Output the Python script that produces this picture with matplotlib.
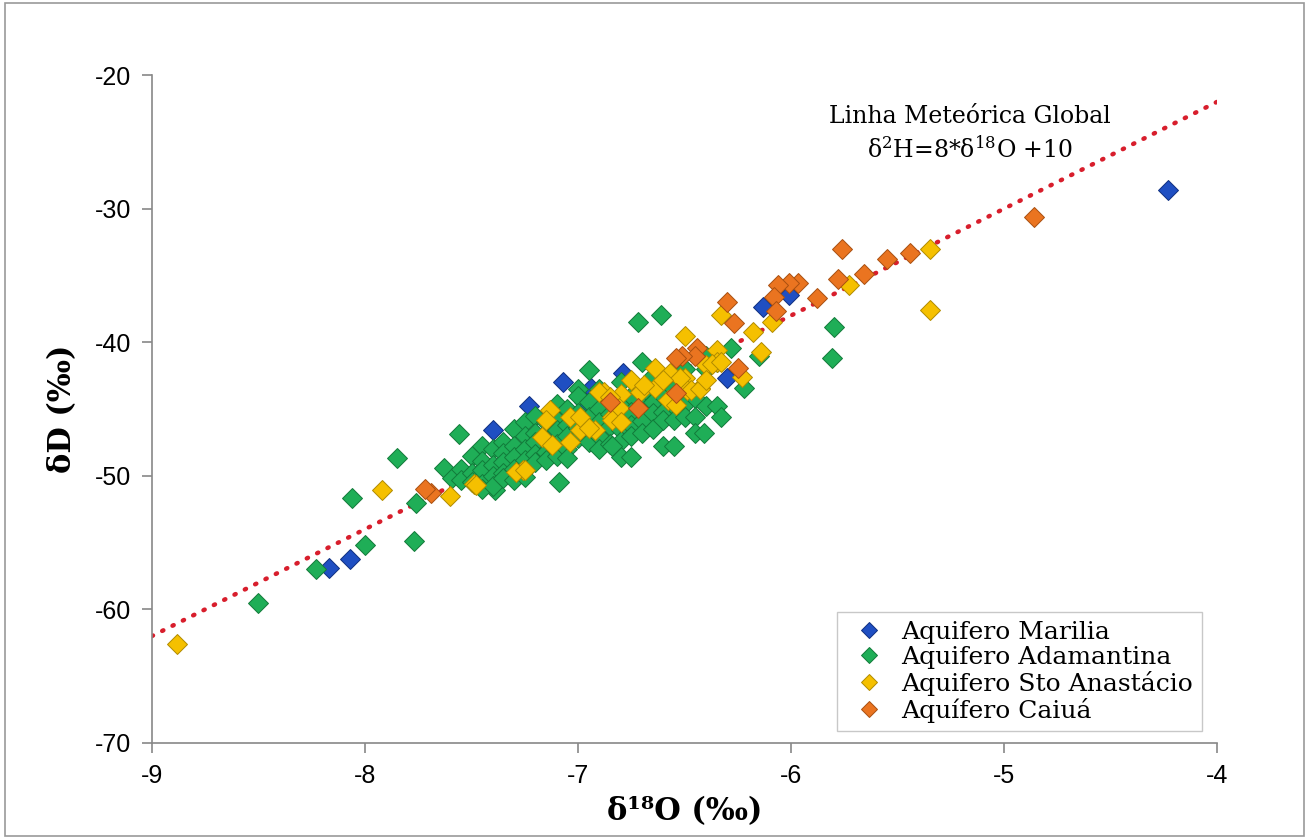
import numpy as np
import matplotlib
matplotlib.use("Agg")
from matplotlib import pyplot as plt
from matplotlib.patches import Rectangle

plt.rcParams["axes.unicode_minus"] = False
plt.rcParams["mathtext.fontset"] = "dejavuserif"

# valores (d18O, dD)
marilia_x = [-4.23, -6.01, -6.13, -6.30, -6.61, -6.79, -6.94, -7.07, -7.23, -7.40, -8.07, -8.17, -6.97]
marilia_y = [-28.6, -36.5, -37.4, -42.7, -43.0, -42.3, -43.4, -43.0, -44.8, -46.6, -56.2, -56.9, -44.5]

adamantina_x = [-8.50, -8.23, -8.00, -7.77, -8.06, -7.85, -7.76, -7.63, -7.59, -7.56,
                -5.80, -5.81, -6.28, -6.22, -6.15, -6.72, -6.61, -7.09, -7.39, -6.95, -7.00,
                -7.55, -7.55, -7.50, -7.50, -7.50,
                -7.45, -7.45, -7.45, -7.45, -7.45,
                -7.40, -7.40, -7.40, -7.40,
                -7.35, -7.35, -7.35, -7.35, -7.35,
                -7.30, -7.30, -7.30, -7.30, -7.30,
                -7.25, -7.25, -7.25, -7.25, -7.25, -7.25,
                -7.20, -7.20, -7.20, -7.20, -7.20,
                -7.15, -7.15, -7.15, -7.15,
                -7.10, -7.10, -7.10, -7.10, -7.10,
                -7.05, -7.05, -7.05, -7.05, -7.05,
                -7.00, -7.00, -7.00, -7.00,
                -6.95, -6.95, -6.95, -6.95,
                -6.90, -6.90, -6.90, -6.90, -6.90,
                -6.85, -6.85, -6.85, -6.85,
                -6.80, -6.80, -6.80, -6.80, -6.80, -6.80,
                -6.75, -6.75, -6.75, -6.75,
                -6.70, -6.70, -6.70, -6.70, -6.70,
                -6.65, -6.65, -6.65, -6.65,
                -6.60, -6.60, -6.60, -6.60,
                -6.55, -6.55, -6.55,
                -6.50, -6.50, -6.50,
                -6.45, -6.45, -6.45,
                -6.41, -6.40, -6.40, -6.40,
                -6.35, -6.35, -6.33, -6.55, -6.75, -6.84]
adamantina_y = [-59.5, -57.0, -55.2, -54.9, -51.7, -48.7, -52.0, -49.4, -50.2, -46.9,
                -38.9, -41.2, -40.4, -43.4, -41.0, -38.5, -38.0, -50.5, -51.1, -42.1, -43.5,
                -49.5, -50.3, -48.5, -49.8, -50.5,
                -47.8, -48.9, -49.6, -50.6, -51.0,
                -48.0, -49.2, -50.0, -50.8,
                -47.5, -48.3, -49.0, -49.8, -50.2,
                -46.5, -47.8, -48.6, -49.5, -50.3,
                -46.0, -47.0, -48.0, -48.8, -49.6, -50.1,
                -45.5, -46.8, -47.5, -48.4, -49.0,
                -46.0, -47.3, -48.2, -48.8,
                -44.6, -45.8, -46.6, -47.6, -48.5,
                -45.0, -46.2, -47.0, -48.0, -48.7,
                -44.0, -45.3, -46.4, -47.2,
                -44.5, -45.6, -46.5, -47.5,
                -43.5, -45.0, -46.0, -47.0, -48.0,
                -44.2, -45.4, -46.3, -47.6,
                -43.0, -44.6, -45.7, -46.6, -47.4, -48.6,
                -44.0, -45.2, -46.2, -47.0,
                -41.5, -43.8, -44.8, -45.9, -46.8,
                -42.5, -44.5, -45.3, -46.5,
                -44.0, -45.2, -45.8, -47.8,
                -43.5, -44.8, -45.8,
                -42.0, -44.6, -45.6,
                -44.2, -45.6, -46.8,
                -46.8, -41.0, -42.0, -44.8,
                -41.5, -44.8, -45.6, -47.8, -48.6, -47.8]

anastacio_x = [-8.88, -7.92, -7.60, -7.49, -7.26, -5.35, -5.35, -5.73,
               -6.33, -6.18, -6.14, -6.09, -6.50, -6.35, -6.35, -6.40, -6.23, -6.43, -6.50, -6.49,
               -6.64, -6.75, -6.88, -6.80, -6.71, -6.64, -6.57, -6.52, -6.58, -6.54, -6.47, -6.43,
               -6.40, -6.37, -6.33, -6.84, -6.81,
               -7.13, -7.15, -7.17, -7.12, -7.04, -6.99, -7.04, -6.99, -6.92, -6.95, -6.84, -6.80,
               -6.60, -6.69, -7.29, -7.25, -7.48, -6.90, -6.85]
anastacio_y = [-62.6, -51.1, -51.5, -50.6, -49.6, -33.0, -37.6, -35.7,
               -38.0, -39.2, -40.7, -38.5, -39.5, -40.6, -41.5, -41.7, -42.6, -43.4, -42.7, -43.6,
               -41.9, -42.8, -43.7, -43.9, -43.7, -43.4, -42.3, -42.7, -44.3, -44.7, -43.6, -43.5,
               -42.8, -41.6, -41.5, -45.6, -44.9,
               -45.1, -45.8, -47.1, -47.7, -47.5, -46.6, -45.6, -45.6, -46.6, -46.4, -45.8, -46.0,
               -42.8, -43.2, -49.7, -49.6, -50.7, -43.7, -44.1]

caiua_x = [-4.86, -5.76, -5.55, -5.44, -5.78, -5.66, -5.88, -5.97, -6.01, -6.06, -6.08, -6.07,
           -6.30, -6.27, -6.44, -6.45, -6.25, -6.51, -6.54, -6.54, -6.72, -6.85, -7.69, -7.72]
caiua_y = [-30.6, -33.0, -33.8, -33.3, -35.3, -34.9, -36.7, -35.6, -35.6, -35.7, -36.6, -37.7,
           -37.0, -38.6, -40.4, -41.0, -41.9, -41.0, -41.2, -43.8, -44.9, -44.5, -51.3, -51.0]

series = [
    ("Aquifero Marilia", marilia_x, marilia_y, "#1f4fc2", "#0f2f80"),
    ("Aquifero Adamantina", adamantina_x, adamantina_y, "#1fae57", "#127a3a"),
    ("Aquifero Sto Anastácio", anastacio_x, anastacio_y, "#f5c000", "#b08a00"),
    ("Aquífero Caiuá", caiua_x, caiua_y, "#ea7420", "#a84f10"),
]

fig = plt.figure(figsize=(13.09, 8.38), dpi=100)
ax = fig.add_axes([0.116, 0.1134, 0.814, 0.7971])

# linha meteorica global
lx = np.array([-9, -4])
ax.plot(lx, 8 * lx + 10, color="#d81e2c", linestyle=(0, (0.3, 2.3)), linewidth=3.2,
        dash_capstyle="round", zorder=1)

for name, xs, ys, c, ec in series:
    ax.plot(xs, ys, "D", color=c, markeredgecolor=ec, markeredgewidth=0.7,
            markersize=10, label=name, zorder=2)

ax.set_xlim(-9, -4)
ax.set_ylim(-70, -20)
ax.set_xticks([-9, -8, -7, -6, -5, -4])
ax.set_yticks([-70, -60, -50, -40, -30, -20])
for s in ["top", "right"]:
    ax.spines[s].set_visible(False)
for s in ["left", "bottom"]:
    ax.spines[s].set_color("#888888")
    ax.spines[s].set_linewidth(1.2)
ax.tick_params(direction="out", length=7, width=1.2, color="#888888",
               labelsize=18, pad=8)
for lab in ax.get_xticklabels() + ax.get_yticklabels():
    lab.set_family(["Liberation Sans Narrow", "Liberation Sans"])

ax.set_xlabel("δ¹⁸O (‰)", fontsize=22, fontweight="bold",
              family="DejaVu Serif", labelpad=6)
ax.set_ylabel("δD (‰)", fontsize=22, fontweight="bold",
              family="DejaVu Serif", labelpad=12)

ax.text(-5.16, -24.4, "Linha Meteórica Global\nδ$^{2}$H=8*δ$^{18}$O +10", ha="center",
        va="center", fontsize=17, family="DejaVu Serif", linespacing=1.35)

leg = ax.legend(loc="lower right", bbox_to_anchor=(0.99, 0.01),
                prop={"family": "DejaVu Serif", "size": 18}, frameon=True,
                fancybox=False, edgecolor="#bbbbbb", handletextpad=0.4,
                labelspacing=0.08, borderpad=0.35, markerscale=0.85, handlelength=1.8,
                borderaxespad=0.2)

# moldura externa
fig.patches.append(Rectangle((0.004, 0.002), 0.992, 0.994, transform=fig.transFigure,
                             fill=False, edgecolor="#999999", linewidth=1.2))

fig.savefig("out.png", dpi=100)
